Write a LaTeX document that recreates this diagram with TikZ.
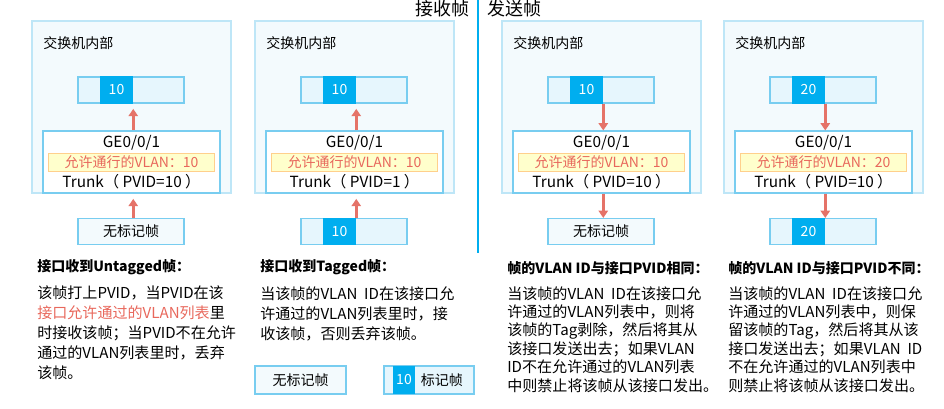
\documentclass[tikz,border=0pt]{standalone}
\usepackage{fontspec}
\setmainfont{Noto Sans CJK SC}
\usetikzlibrary{arrows.meta,positioning}
\definecolor{vlanblue}{RGB}{0,174,239}
\definecolor{framefill}{RGB}{230,246,253}
\definecolor{frameline}{RGB}{120,205,240}
\definecolor{panelfill}{RGB}{243,250,253}
\definecolor{panelline}{RGB}{190,230,247}
\definecolor{allowfill}{RGB}{255,255,204}
\definecolor{allowline}{RGB}{255,208,140}
\definecolor{tred}{RGB}{232,104,92}
\definecolor{arrred}{RGB}{229,115,104}

\begin{document}
\begin{tikzpicture}[x=0.75pt,y=-0.75pt,
  panelbox/.style={draw=panelline,fill=panelfill,line width=0.8pt},
  framebox/.style={draw=frameline,fill=framefill,line width=0.8pt,
    minimum width=79.5pt,minimum height=19.5pt,inner sep=0pt},
  plainframe/.style={framebox,fill=panelfill,font=\fontsize{10.5}{12}\selectfont},
  vidseg/.style={fill=vlanblue,text=white,minimum width=24.75pt,
    minimum height=20.3pt,inner sep=0pt,font=\fontsize{10.5}{12}\selectfont},
  portbox/.style={draw=frameline,fill=white,line width=0.8pt,
    minimum width=132.75pt,minimum height=46.5pt,inner sep=0pt},
  allowbox/.style={draw=allowline,fill=allowfill,line width=0.6pt,text=tred,
    minimum width=124.5pt,minimum height=13.5pt,inner sep=0pt,
    font=\fontsize{10.5}{12}\selectfont},
  intxt/.style={inner sep=0pt,font=\fontsize{10.5}{12}\selectfont},
  porttxt/.style={inner sep=0pt,font=\fontsize{11.5}{13}\selectfont},
  headtxt/.style={inner sep=0pt,font=\fontsize{13.5}{16}\selectfont},
  boldtxt/.style={inner sep=0pt,anchor=west,font=\bfseries\fontsize{10.5}{12}\selectfont},
  desctxt/.style={inner sep=0pt,anchor=north west,align=left,
    font=\fontsize{11.3}{15}\selectfont},
  arr/.style={-{Triangle[width=7pt,length=5.5pt]},line width=2pt,draw=arrred},
  divline/.style={draw=vlanblue,line width=1.2pt}]
  \useasboundingbox (0,0) rectangle (944,409);

  % receive / send titles and the divider
  \node[headtxt,anchor=east] (rxhead) at (470,9) {接收帧};
  \node[headtxt,anchor=west] (txhead) at (487,9) {发送帧};
  \draw[divline] (478,0) -- (478,253);

  % four switch panels: index / left edge / frame VLAN / allowed VLAN / PVID
  \foreach \i/\ox/\vid/\allow/\pvid in {1/32/10/10/10,2/255/10/10/1,3/502/10/10/10,4/724/20/20/10}{
    \draw[panelbox] (\ox,21) rectangle (\ox+199,193);
    \node[intxt,anchor=west] (inside\i) at (\ox+11,43) {交换机内部};
    \node[framebox] (frame\i) at (\ox+99,90) {};
    \node[vidseg] (vid\i) at (\ox+84.5,90) {\vid};
    \node[portbox] (port\i) at (\ox+99.5,162) {};
    \node[porttxt] (ge\i) at (\ox+99.5,143) {GE0/0/1};
    \node[allowbox] (allow\i) at (\ox+99.5,162) {允许通行的VLAN：\allow};
    \node[porttxt] (trunk\i) at (\ox+99.5,182) {Trunk（\ PVID=\pvid\ ）};
  }

  % frames outside the port
  \node[plainframe] (bot1) at (131,231.5) {无标记帧};
  \node[framebox] (bot2) at (354,231.5) {};
  \node[vidseg] (botvid2) at (339.5,231.5) {10};
  \node[plainframe] (bot3) at (601,231.5) {无标记帧};
  \node[framebox] (bot4) at (823,231.5) {};
  \node[vidseg] (botvid4) at (808.5,231.5) {20};

  % receiving: frame goes up into the switch
  \draw[arr,shorten >=4pt] (bot1.north -| vid1.east) -- (port1.south -| vid1.east);
  \draw[arr,shorten >=4pt] (port1.north -| vid1.east) -- (frame1.south -| vid1.east);
  \draw[arr,shorten >=4pt] (bot2.north -| vid2.east) -- (port2.south -| vid2.east);
  \draw[arr,shorten >=4pt] (port2.north -| vid2.east) -- (frame2.south -| vid2.east);
  % sending: frame goes down out of the switch
  \draw[arr] (frame3.south -| vid3.east) -- (port3.north -| vid3.east);
  \draw[arr] (port3.south -| vid3.east) -- (bot3.north -| vid3.east);
  \draw[arr] (frame4.south -| vid4.east) -- (port4.north -| vid4.east);
  \draw[arr] (port4.south -| vid4.east) -- (bot4.north -| vid4.east);

  % explanations
  \node[boldtxt] (head1) at (37,267) {接口收到Untagged帧：};
  \node[desctxt] (desc1) at (37,286) {该帧打上PVID，当PVID在该\\
    \textcolor{tred}{接口允许通过的VLAN列表}里\\
    时接收该帧；当PVID不在允许\\
    通过的VLAN列表里时，丢弃\\
    该帧。};
  \node[boldtxt] (head2) at (260,267) {接口收到Tagged帧：};
  \node[desctxt] (desc2) at (260,286) {当该帧的VLAN\ \ ID在该接口允\\
    许通过的VLAN列表里时，接\\
    收该帧，否则丢弃该帧。};
  \node[boldtxt] (head3) at (507,268) {帧的VLAN ID与接口PVID相同：};
  \node[desctxt,font=\fontsize{11.3}{13.8}\selectfont] (desc3) at (507,286) {当该帧的VLAN\ \ ID在该接口允\\
    许通过的VLAN列表中，则将\\
    该帧的Tag剥除，然后将其从\\
    该接口发送出去；如果VLAN\\
    ID不在允许通过的VLAN列表\\
    中则禁止将该帧从该接口发出。};
  \node[boldtxt] (head4) at (728,268) {帧的VLAN ID与接口PVID不同：};
  \node[desctxt,font=\fontsize{11.3}{13.8}\selectfont] (desc4) at (728,286) {当该帧的VLAN\ \ ID在该接口允\\
    许通过的VLAN列表中，则保\\
    留该帧的Tag，然后将其从该\\
    接口发送出去；如果VLAN\ \ ID\\
    不在允许通过的VLAN列表中\\
    则禁止将该帧从该接口发出。};

  % legend
  \node[plainframe,minimum width=68.25pt,minimum height=21pt] (legplain) at (300.5,380) {无标记帧};
  \node[framebox,minimum width=67.5pt,minimum height=21pt] (legtag) at (429,380) {};
  \node[vidseg,minimum width=16.5pt,minimum height=21.6pt] (legvid) at (404,380) {10};
  \node[intxt,right=4pt of legvid] (legtxt) {标记帧};
\end{tikzpicture}
\end{document}
